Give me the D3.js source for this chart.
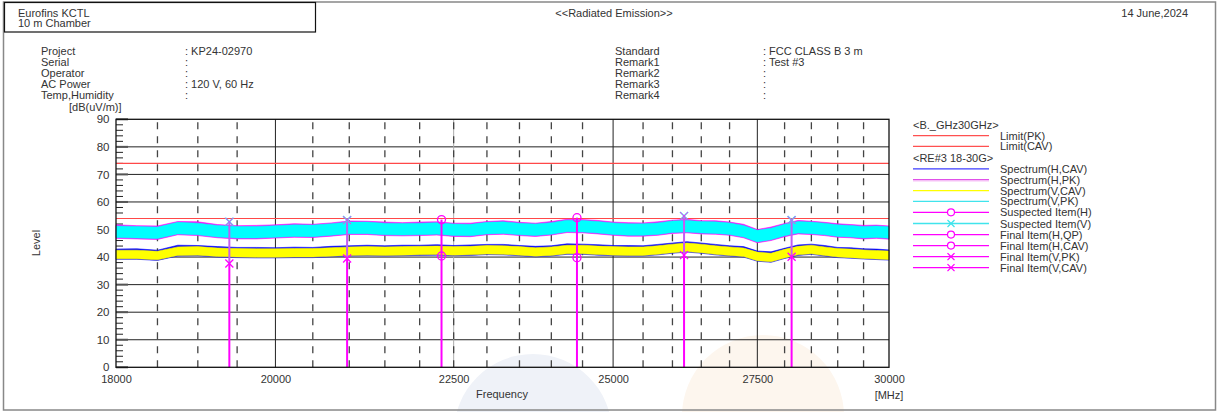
<!DOCTYPE html>
<html><head><meta charset="utf-8">
<script src="https://cdn.jsdelivr.net/npm/d3@7"></script>
<style>body{margin:0;background:#fff}svg{display:block;font-family:"Liberation Sans",Arial,sans-serif}</style>
</head><body><svg id="c" width="1218" height="412"></svg>
<script>
// ---------- data ----------
const freqs = [18000,18250,18500,18750,19000,19250,19500,19750,20000,20250,20500,20750,21000,21250,21500,21750,22000,22250,22500,22750,23000,23250,23500,23750,24000,24250,24500,24750,25000,25250,25500,25750,26000,26250,26500,26750,27000,27250,27500,27750,28000,28250,28500,28750,29000,29250,29500,29750,30000];
const hpkTop = [51.7,51.4,51.3,52.9,52.8,51.8,51.4,51.5,51.7,52.1,51.9,52.4,53.1,53.0,52.7,52.5,52.7,52.8,52.3,52.3,52.9,53.2,52.6,52.3,52.9,53.7,53.6,53.3,52.7,52.5,52.4,52.8,53.4,53.7,53.2,53.2,52.7,51.9,50.0,50.9,52.2,53.3,53.0,52.6,52.1,51.8,51.5,51.6,51.3];
const hpkBot = [46.8,46.6,46.4,48.1,47.8,47.0,46.6,46.6,46.9,47.2,47.1,47.6,48.2,48.2,47.8,47.7,47.8,48.0,47.5,47.4,48.1,48.3,47.8,47.5,48.0,48.9,48.8,48.4,47.9,47.6,47.6,47.9,48.6,48.8,48.4,48.3,47.9,47.0,45.2,46.0,47.4,48.4,48.2,47.8,47.2,47.0,46.6,46.8,46.5];
const vpkTop = [51.3,51.1,50.9,52.6,52.3,51.5,51.1,51.1,51.4,51.7,51.6,52.1,52.7,52.7,52.3,52.2,52.3,52.5,52.0,51.9,52.6,52.8,52.3,52.0,52.5,53.4,53.3,52.9,52.4,52.1,52.1,52.4,53.1,53.3,52.9,52.8,52.4,51.5,49.7,50.5,51.9,52.9,52.7,52.3,51.7,51.5,51.1,51.3,51.0];
const vpkBot = [47.1,46.9,46.7,48.4,48.1,47.3,46.9,46.9,47.2,47.5,47.4,47.9,48.5,48.5,48.1,48.0,48.1,48.3,47.8,47.7,48.4,48.6,48.1,47.8,48.3,49.2,49.1,48.7,48.2,47.9,47.9,48.2,48.9,49.1,48.7,48.6,48.2,47.3,45.5,46.3,47.7,48.7,48.5,48.1,47.5,47.3,46.9,47.1,46.8];
const hcavTop = [42.9,43.0,42.5,44.3,44.2,43.8,43.5,43.5,43.4,43.6,43.5,43.9,44.1,44.3,44.1,44.3,44.3,44.5,44.2,44.4,44.6,44.6,44.2,43.9,44.1,44.8,44.7,44.5,44.2,44.2,44.1,44.6,45.1,45.6,45.1,44.6,44.1,43.8,42.2,41.9,43.2,44.4,44.7,44.2,43.5,43.4,43.0,42.9,42.6];
const hcavBot = [39.2,39.2,38.8,40.4,40.5,40.0,39.8,39.7,39.7,39.8,39.8,40.1,40.4,40.5,40.4,40.5,40.6,40.7,40.5,40.6,40.9,40.8,40.5,40.1,40.4,41.0,41.0,40.7,40.5,40.4,40.4,40.8,41.4,41.8,41.4,40.8,40.4,40.0,38.5,38.1,39.5,40.6,41.0,40.4,39.8,39.6,39.3,39.1,38.9];
const vcavTop = [42.5,42.5,42.1,43.7,43.8,43.3,43.1,43.0,43.0,43.1,43.1,43.4,43.7,43.8,43.7,43.8,43.9,44.0,43.8,43.9,44.2,44.1,43.8,43.4,43.7,44.3,44.3,44.0,43.8,43.7,43.7,44.1,44.7,45.1,44.7,44.1,43.7,43.3,41.8,41.4,42.8,43.9,44.3,43.7,43.1,42.9,42.6,42.4,42.2];
const vcavBot = [39.4,39.4,39.0,40.6,40.7,40.2,40.0,39.9,39.9,40.0,40.0,40.3,40.6,40.7,40.6,40.7,40.8,40.9,40.7,40.8,41.1,41.0,40.7,40.3,40.6,41.2,41.2,40.9,40.7,40.6,40.6,41.0,41.6,42.0,41.6,41.0,40.6,40.2,38.7,38.3,39.7,40.8,41.2,40.6,40.0,39.8,39.5,39.3,39.1];

const limitPK = 74, limitCAV = 54;

const markerFreq = [19400, 20970, 22320, 24410, 26200, 28130];
const markerPol  = ["V","V","H","H","V","V"];
const markerPeak = [52.8, 53.4, 53.6, 54.3, 54.9, 53.4];
const markerAvg  = [37.7, 39.5, 40.4, 39.8, 40.7, 40.1];

const xTickValues = [18000, 20000, 22500, 25000, 27500, 30000];
const yTickValues = [0,10,20,30,40,50,60,70,80,90];
const solidGridFreqs = [20000, 25000, 27500];
const mixedGridFreqs = [22500];

const infoLeftLabels  = ["Project","Serial","Operator","AC Power","Temp,Humidity"];
const infoLeftValues  = [": KP24-02970",":",":",": 120 V, 60 Hz",":"];
const infoRightLabels = ["Standard","Remark1","Remark2","Remark3","Remark4"];
const infoRightValues = [": FCC CLASS B 3 m",": Test #3",":",":",":"];

const legendLabels = ["<B._GHz30GHz>","Limit(PK)","Limit(CAV)","<RE#3 18-30G>","Spectrum(H,CAV)","Spectrum(H,PK)","Spectrum(V,CAV)","Spectrum(V,PK)","Suspected Item(H)","Suspected Item(V)","Final Item(H,QP)","Final Item(H,CAV)","Final Item(V,PK)","Final Item(V,CAV)"];

// ---------- drawing ----------
const svg = d3.select("#c");
const TXT = "#333";
const L = 116, R = 889, T = 119.3, B = 367.3;
const x = d3.scaleLog().domain([18000, 30000]).range([L, R]);
const y = d3.scaleLinear().domain([0, 90]).range([B, T]);

// watermark circles
svg.append("circle").attr("cx",533).attr("cy",433).attr("r",79).attr("fill","#eff2f8");
svg.append("circle").attr("cx",763).attr("cy",416).attr("r",81).attr("fill","#fdf6ee");

// frame
svg.append("rect").attr("x",3.5).attr("y",2).attr("width",1212).attr("height",408)
  .attr("fill","none").attr("stroke","#888").attr("stroke-width",1.5);
svg.append("rect").attr("x",4.5).attr("y",2.5).attr("width",311).attr("height",29.5)
  .attr("fill","#fff").attr("stroke","#111").attr("stroke-width",1.2);

// header text
const hdr = svg.append("g").attr("font-size",11).attr("fill",TXT);
hdr.append("text").attr("x",18).attr("y",16.5).text("Eurofins KCTL");
hdr.append("text").attr("x",18).attr("y",26.5).text("10 m Chamber");
hdr.append("text").attr("x",614).attr("y",16.5).attr("text-anchor","middle").text("<<Radiated Emission>>");
hdr.append("text").attr("x",1188).attr("y",16.5).attr("text-anchor","end").text("14 June,2024");

infoLeftLabels.forEach((t,i)=>{
  hdr.append("text").attr("x",41).attr("y",55+i*11).text(t);
  hdr.append("text").attr("x",185).attr("y",55+i*11).text(infoLeftValues[i]);
});
infoRightLabels.forEach((t,i)=>{
  hdr.append("text").attr("x",615).attr("y",55+i*11).text(t);
  hdr.append("text").attr("x",763).attr("y",55+i*11).text(infoRightValues[i]);
});
hdr.append("text").attr("x",69).attr("y",110.5).text("[dB(uV/m)]");

// horizontal grid
const g = svg.append("g");
yTickValues.filter(v=>v>0 && v<90).forEach(v=>{
  g.append("line").attr("x1",L).attr("x2",R).attr("y1",y(v)).attr("y2",y(v))
   .attr("stroke","#222").attr("stroke-width",1);
});
// vertical grid
d3.range(18500, 30000, 500).forEach(f=>{
  if (solidGridFreqs.includes(f)) {
    g.append("line").attr("x1",x(f)).attr("x2",x(f)).attr("y1",T).attr("y2",B).attr("stroke","#222");
  } else {
    if (mixedGridFreqs.includes(f)) {
      g.append("line").attr("x1",x(f)).attr("x2",x(f)).attr("y1",T).attr("y2",B).attr("stroke","#aaa");
    }
    g.append("line").attr("x1",x(f)).attr("x2",x(f)).attr("y1",B).attr("y2",T)
     .attr("stroke","#444").attr("stroke-width",1.3).attr("stroke-dasharray","7,7");
  }
});
// minor / major ticks on left
d3.range(0, 91, 2).forEach(v=>{
  if (v % 10 === 0) {
    g.append("line").attr("x1",L).attr("x2",L+12).attr("y1",y(v)).attr("y2",y(v)).attr("stroke","#555").attr("stroke-width",2);
  } else {
    g.append("line").attr("x1",L).attr("x2",L+7).attr("y1",y(v)).attr("y2",y(v)).attr("stroke","#222").attr("stroke-width",1);
  }
});

// limits
[limitPK, limitCAV].forEach(v=>{
  svg.append("line").attr("x1",L).attr("x2",R).attr("y1",y(v)).attr("y2",y(v))
    .attr("stroke","#ff4848").attr("stroke-width",1.2);
});

// spectra bands
const idx = d3.range(freqs.length);
function band(top, bot, color){
  const area = d3.area().x(i=>x(freqs[i])).y0(i=>y(bot[i])).y1(i=>y(top[i]));
  svg.append("path").datum(idx).attr("d",area).attr("fill",color).attr("stroke",color).attr("stroke-width",0.6);
}
band(hpkTop, hpkBot, "#ff00ff");
band(vpkTop, vpkBot, "#00ffff");
band(hcavTop, hcavBot, "#0000ff");
band(vcavTop, vcavBot, "#ffff00");

// markers
const mk = svg.append("g");
function xMark(cx, cy, color, sw){
  const s = 4;
  mk.append("path").attr("d",`M${cx-s},${cy-s}L${cx+s},${cy+s}M${cx-s},${cy+s}L${cx+s},${cy-s}`)
    .attr("stroke",color).attr("stroke-width",sw||1.3).attr("fill","none");
}
function oMark(cx, cy, color){
  mk.append("circle").attr("cx",cx).attr("cy",cy).attr("r",4).attr("fill","none").attr("stroke",color).attr("stroke-width",1.3);
}
markerFreq.forEach((f,i)=>{
  const cx = x(f);
  if (markerPol[i]==="V") {
    mk.append("line").attr("x1",cx).attr("x2",cx).attr("y1",B).attr("y2",y(markerAvg[i])).attr("stroke","#ff00ff").attr("stroke-width",2);
    mk.append("line").attr("x1",cx).attr("x2",cx).attr("y1",y(markerAvg[i])).attr("y2",y(markerPeak[i])).attr("stroke","#c45cf4").attr("stroke-width",2);
    xMark(cx, y(markerPeak[i]), "#40e8f0", 1.6);
    xMark(cx, y(markerPeak[i]), "#e040f0", 1);
    xMark(cx, y(markerAvg[i]), "#ff00ff", 1.3);
  } else {
    mk.append("line").attr("x1",cx).attr("x2",cx).attr("y1",B).attr("y2",y(markerPeak[i])).attr("stroke","#ff00ff").attr("stroke-width",2);
    oMark(cx, y(markerPeak[i]), "#ff00ff");
    oMark(cx, y(markerAvg[i]), "#ff00ff");
  }
});

// plot frame
svg.append("rect").attr("x",L).attr("y",T).attr("width",R-L).attr("height",B-T)
  .attr("fill","none").attr("stroke","#111").attr("stroke-width",1.3);

// axes labels
const xAxis = d3.axisBottom(x).tickValues(xTickValues).tickFormat(d3.format("d")).tickSize(0).tickPadding(0);
const xa = svg.append("g").attr("transform",`translate(0,${B})`).call(xAxis);
xa.select(".domain").remove();
xa.selectAll("text").attr("font-size",11).attr("fill",TXT).attr("font-family","Liberation Sans, Arial, sans-serif").attr("dy",null).attr("y",16);

const yAxis = d3.axisLeft(y).tickValues(yTickValues).tickSize(0).tickPadding(0);
const ya = svg.append("g").attr("transform",`translate(109.5,0)`).call(yAxis);
ya.select(".domain").remove();
ya.selectAll("text").attr("font-size",11.5).attr("fill",TXT).attr("font-family","Liberation Sans, Arial, sans-serif");

svg.append("text").attr("x",502).attr("y",398).attr("text-anchor","middle").attr("font-size",11).attr("fill",TXT).text("Frequency");
svg.append("text").attr("x",889).attr("y",398.5).attr("text-anchor","middle").attr("font-size",11).attr("fill",TXT).text("[MHz]");
svg.append("text").attr("transform","translate(40,243) rotate(-90)").attr("text-anchor","middle").attr("font-size",11).attr("fill",TXT).text("Level");

// legend
const legY = [125,135.7,146.4,158,168.8,179.7,190.6,201.4,212.3,223.5,234.6,245.6,256.6,267.6];
const legStyles = [
  null,
  {c:"#ff5050"},{c:"#ff5050"},
  null,
  {c:"#3c3cff"},{c:"#e050e8", c2:"#f4b0f4"},{c:"#ffff00"},{c:"#40e4ec"},
  {c:"#ff00ff", m:"o"},{c:"#40e4ec", m:"x", mc:"#40e4ec"},{c:"#ff00ff", m:"o"},{c:"#ff00ff", m:"o"},{c:"#ff00ff", m:"x"},{c:"#ff00ff", m:"x"}
];
const lg = svg.append("g").attr("font-size",11).attr("fill",TXT);
legendLabels.forEach((t,i)=>{
  const st = legStyles[i];
  const yy = legY[i];
  if (!st) {
    lg.append("text").attr("x",913).attr("y",yy+3.5).text(t);
    return;
  }
  lg.append("line").attr("x1",913).attr("x2",989).attr("y1",yy).attr("y2",yy).attr("stroke",st.c).attr("stroke-width",1.3);
  if (st.c2) lg.append("line").attr("x1",913).attr("x2",989).attr("y1",yy+1.2).attr("y2",yy+1.2).attr("stroke",st.c2).attr("stroke-width",1);
  if (st.m==="o") lg.append("circle").attr("cx",951).attr("cy",yy).attr("r",3.5).attr("fill","#fff").attr("stroke",st.c).attr("stroke-width",1.2);
  if (st.m==="x") {
    const s=3.5;
    lg.append("path").attr("d",`M${951-s},${yy-s}L${951+s},${yy+s}M${951-s},${yy+s}L${951+s},${yy-s}`).attr("stroke",st.c).attr("stroke-width",1.3);
  }
  lg.append("text").attr("x",1000).attr("y",yy+4).text(t);
});
</script>
</body></html>
